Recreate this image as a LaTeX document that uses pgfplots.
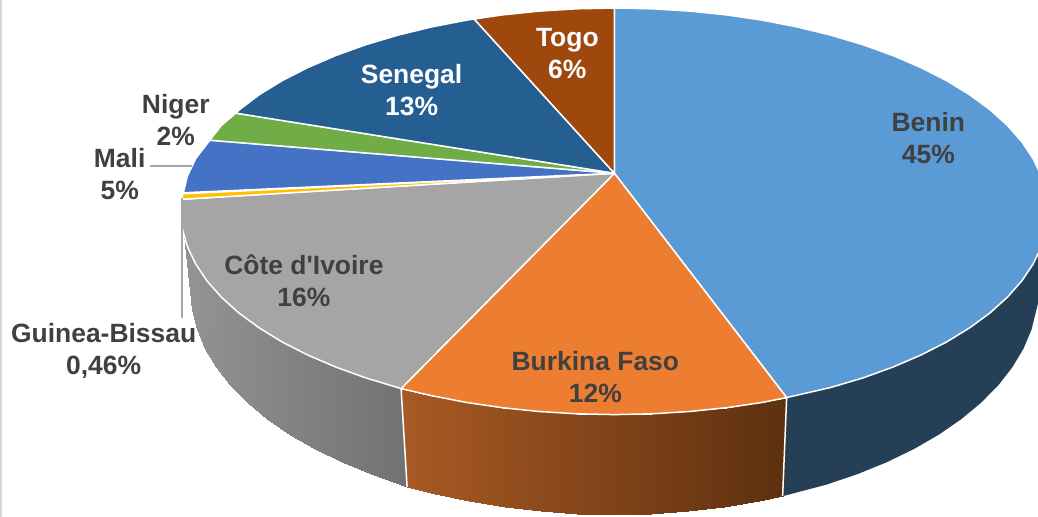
\documentclass[border=0pt]{standalone}
\usepackage{pgfplots}
\usepackage{fontspec}
\setmainfont{Liberation Sans}[Ligatures=TeXOff]
\pgfplotsset{compat=1.18}
\usepgfplotslibrary{patchplots}
\definecolor{cBenin}{HTML}{5B9BD5}
\definecolor{cBenside}{HTML}{254056}
\definecolor{cBurk}{HTML}{ED7D31}
\definecolor{cCote}{HTML}{A5A5A5}
\definecolor{cGuin}{HTML}{FFC000}
\definecolor{cMali}{HTML}{4472C4}
\definecolor{cNiger}{HTML}{70AD47}
\definecolor{cSen}{HTML}{255E91}
\definecolor{cTogo}{HTML}{9E480E}
\definecolor{cText}{HTML}{404040}
\definecolor{cLead}{HTML}{A6A6A6}
\definecolor{cEdge}{HTML}{D5D9DC}
\tikzset{
  slice/.style={draw=white, line width=1.5pt, fill=#1},
  lab/.style={font=\fontsize{26.4}{32}\selectfont\bfseries, align=center, text=cText, inner sep=0pt},
}
\begin{document}
\begin{tikzpicture}
\begin{axis}[
  scale only axis, width=1038pt, height=516pt,
  xmin=0, xmax=1038, ymin=0, ymax=516, y dir=reverse,
  hide axis, clip=true,
  point meta min=183, point meta max=1790,
  colormap={sides}{rgb255(183pt)=(148,148,148) rgb255(410pt)=(113,113,113) rgb255(1400pt)=(170,90,36) rgb255(1790pt)=(92,48,15)},
  every axis plot/.append style={line join=round},
]
% window edge of the screenshot
\addplot[cEdge, line width=2pt] coordinates {(2.5,0) (2.5,516)};

% Benin side
\addplot[fill=cBenside, draw=none] coordinates {
 (787,397) (831.5,386.8) (863.4,377.3) (893.3,366.5) (921.2,354.5) (946.7,341.5) (969.7,327.4) (990,312.5) (1007.4,296.8) (1021.9,280.4) (1033.2,263.5) (1041,250)
 (1041,290) (1036.4,309.5) (1031.6,328.9) (1023.6,348) (1012.5,366.6) (998.4,384.7) (981.3,402) (961.5,418.5) (939,434) (914.1,448.4) (886.9,461.6) (857.6,473.5) (826.5,484) (783,495.5)
} -- cycle;

% Burkina Faso side
\addplot[patch, patch type=rectangle, shader=interp, point meta={x+1000}] coordinates {
 (787,397.5)(763.1,401.8)(759.7,500.5)(783,495.5)
 (763.1,401.8)(727.1,407.1)(724.5,506.4)(759.7,500.5)
 (727.1,407.1)(690.2,410.9)(688.5,510.6)(724.5,506.4)
 (690.2,410.9)(652.8,413.2)(651.9,513.1)(688.5,510.6)
 (652.8,413.2)(615,414)(615,514)(651.9,513.1)
 (615,414)(577.2,413.2)(578.1,513.1)(615,514)
 (577.2,413.2)(539.8,410.9)(541.5,510.6)(578.1,513.1)
 (539.8,410.9)(502.9,407.1)(505.5,506.4)(541.5,510.6)
 (502.9,407.1)(466.9,401.8)(470.3,500.5)(505.5,506.4)
 (466.9,401.8)(432,395)(436.2,493)(470.3,500.5)
 (432,395)(402,388)(408,486)(436.2,493)
};

% Cote d'Ivoire side
\addplot[patch, patch type=rectangle, shader=interp, point meta=x] coordinates {
 (402,388)(384,382.5)(372.4,473.5)(408,486)
 (384,382.5)(366.6,377.3)(343.1,461.6)(372.4,473.5)
 (366.6,377.3)(336.7,366.5)(315.9,448.4)(343.1,461.6)
 (336.7,366.5)(308.8,354.5)(291,434)(315.9,448.4)
 (308.8,354.5)(283.3,341.5)(268.5,418.5)(291,434)
 (283.3,341.5)(260.3,327.4)(248.7,402)(268.5,418.5)
 (260.3,327.4)(240,312.5)(231.6,384.7)(248.7,402)
 (240,312.5)(222.6,296.8)(217.5,366.6)(231.6,384.7)
 (222.6,296.8)(208.1,280.4)(206.4,348)(217.5,366.6)
 (208.1,280.4)(196.8,263.5)(198.4,328.9)(206.4,348)
 (196.8,263.5)(188.6,246.2)(193.6,309.5)(198.4,328.9)
 (188.6,246.2)(185,235)(192,290)(193.6,309.5)
};

% separators on the side
\addplot[white, line width=1.5pt] coordinates {(787,397) (783,495.5)};
\addplot[white, line width=1.5pt] coordinates {(402,388) (408,486)};

% Top face: apex (615,173)
\addplot[slice=cBenin] coordinates {
 (615,173) (615,8) (652.8,8.8) (690.2,11.1) (727.1,14.9) (763.1,20.2) (798,27) (831.5,35.2) (863.4,44.7) (893.3,55.5) (921.2,67.5) (946.7,80.5) (969.7,94.6) (990,109.5) (1007.4,125.2) (1021.9,141.6) (1033.2,158.5) (1041.4,175.8) (1046.4,193.3) (1048,211) (1046.4,228.7) (1041.4,246.2) (1033.2,263.5) (1021.9,280.4) (1007.4,296.8) (990,312.5) (969.7,327.4) (946.7,341.5) (921.2,354.5) (893.3,366.5) (863.4,377.3) (831.5,386.8) (787,397)
} -- cycle;
\addplot[slice=cBurk] coordinates {
 (615,173) (787,397) (763.1,401.8) (727.1,407.1) (690.2,410.9) (652.8,413.2) (615,414) (577.2,413.2) (539.8,410.9) (502.9,407.1) (466.9,401.8) (432,395) (402,388)
} -- cycle;
\addplot[slice=cCote] coordinates {
 (615,173) (402,388) (366.6,377.3) (336.7,366.5) (308.8,354.5) (283.3,341.5) (260.3,327.4) (240,312.5) (222.6,296.8) (208.1,280.4) (196.8,263.5) (188.6,246.2) (183.6,228.7) (182,211) (183,199)
} -- cycle;
\addplot[slice=cGuin] coordinates {(615,173) (183,199) (184,193.5)} -- cycle;
\addplot[slice=cMali] coordinates {
 (615,173) (184.5,192.5) (188.6,175.8) (196.8,158.5) (211,140)
} -- cycle;
\addplot[slice=cNiger] coordinates {(615,173) (211,140) (222.6,125.2) (237,113)} -- cycle;
\addplot[slice=cSen] coordinates {
 (615,173) (237,113) (240,110) (260.3,94.6) (283.3,80.5) (308.8,67.5) (336.7,55.5) (366.6,44.7) (398.5,35.2) (432,27) (466.9,20.2) (475,19)
} -- cycle;
\addplot[slice=cTogo] coordinates {(615,173) (475,19) (502.9,14.9) (539.8,11.1) (577.2,8.8) (615,8)} -- cycle;

% leader lines
\addplot[cLead, line width=1.7pt] coordinates {(151,166) (193,166)};
\addplot[cLead, line width=1.7pt] coordinates {(183.5,198) (183.5,318)};

% labels
\node[lab] at (axis cs:928.5,137.5) {Benin\\45\%};
\node[lab, text=white] at (axis cs:412.5,89.5) {Senegal\\13\%};
\node[lab, text=white] at (axis cs:568,53.5) {Togo\\6\%};
\node[lab] at (axis cs:177,119.5) {Niger\\2\%};
\node[lab] at (axis cs:121,173.5) {Mali\\5\%};
\node[lab] at (axis cs:305,280.5) {Côte d'Ivoire\\16\%};
\node[lab] at (axis cs:105,350.5) {Guinea-Bissau\\0,46\%};
\node[lab] at (axis cs:596,376.5) {Burkina Faso\\12\%};
\end{axis}
\end{tikzpicture}
\end{document}
